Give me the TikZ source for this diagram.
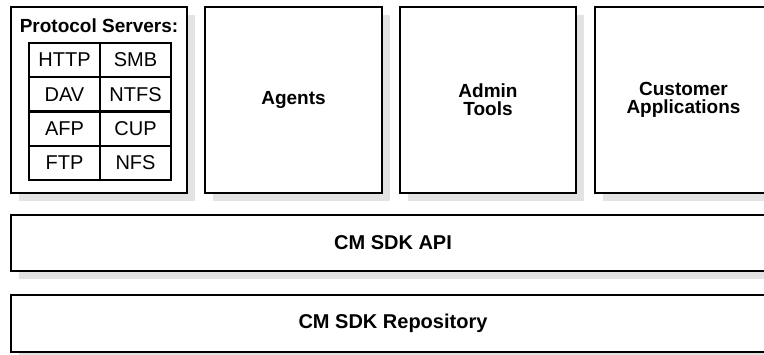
\documentclass[tikz,border=0pt]{standalone}
\usepackage{fontspec}
\setmainfont{Liberation Sans}
\usetikzlibrary{shadows}

\begin{document}
\begin{tikzpicture}[x=1pt, y=-1pt]

      \tikzset{layer/.style={draw, line width=2.2pt, fill=white, inner sep=0pt, outer sep=0pt,
                 align=center, font=\fontsize{19}{18}\selectfont\bfseries,
                 drop shadow={shadow xshift=8pt, shadow yshift=-8pt, fill=black!11, opacity=1}},
               cell/.style={draw, line width=2pt, inner sep=0pt, outer sep=0pt,
                 minimum width=71pt, minimum height=34.25pt, font=\fontsize{20}{20}\selectfont}}
      \clip (0,0) rectangle (764,354);
      \fill[white] (0,0) rectangle (764,354);
%% Upper row
      	\node[layer, minimum width=176pt, minimum height=186pt] (proto) at (99,100) {};
      	\node[font=\fontsize{19}{19}\selectfont\bfseries] (prototitle) at (99,26) {Protocol Servers:};
      	\node[layer, minimum width=177pt, minimum height=186pt] (agents) at (293.5,100) {Agents};
      	\node[layer, minimum width=176pt, minimum height=186pt] (admin) at (488,100) {Admin\\Tools};
      	\node[layer, minimum width=177pt, minimum height=186pt] (custom) at (683.5,100) {Customer\\Applications};
%Protocol table
      	\node[cell] (http) at (64.5,60.1) {HTTP};
      	\node[cell] (smb) at (135.5,60.1) {SMB};
      	\node[cell] (dav) at (64.5,94.4) {DAV};
      	\node[cell] (ntfs) at (135.5,94.4) {NTFS};
      	\node[cell] (afp) at (64.5,128.6) {AFP};
      	\node[cell] (cup) at (135.5,128.6) {CUP};
      	\node[cell] (ftp) at (64.5,162.9) {FTP};
      	\node[cell] (nfs) at (135.5,162.9) {NFS};
%Lower layers
      	\node[layer, minimum width=764pt, minimum height=56pt, font=\fontsize{20}{20}\selectfont\bfseries] (api) at (393,243) {CM SDK API};
      	\node[layer, minimum width=764pt, minimum height=57pt, font=\fontsize{20}{20}\selectfont\bfseries] (repo) at (393,323.5) {CM SDK Repository};

	\end{tikzpicture}
\end{document}
